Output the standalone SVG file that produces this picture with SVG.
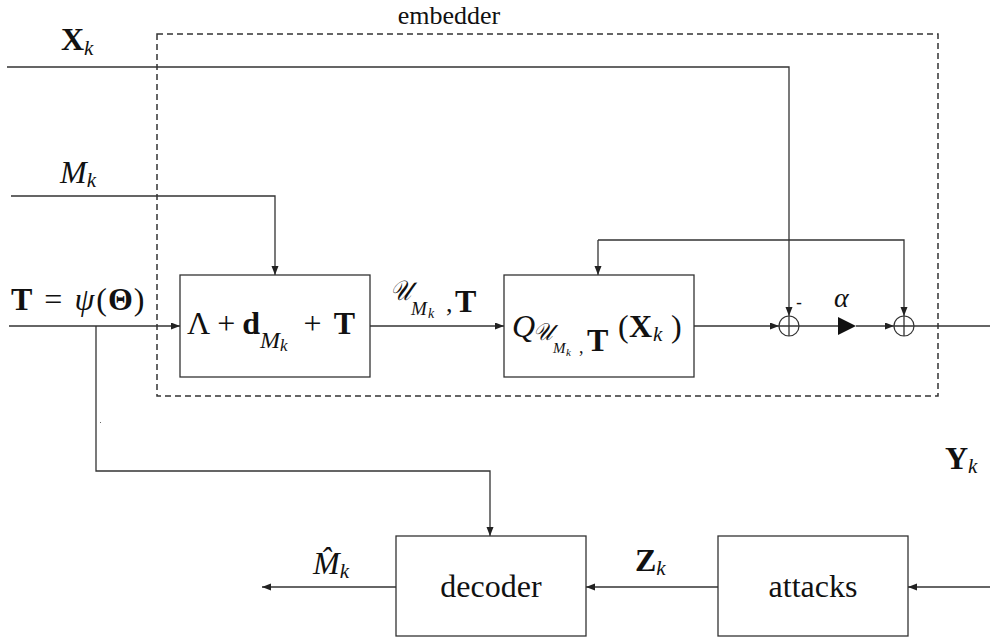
<svg xmlns="http://www.w3.org/2000/svg" width="990" height="639" viewBox="0 0 990 639">
<defs>
<marker id="arr" markerUnits="userSpaceOnUse" markerWidth="10" markerHeight="8" refX="9" refY="3.5" orient="auto">
<path d="M0,0 L9,3.5 L0,7 z" fill="#222"/>
</marker>
</defs>
<style>
.t{font-family:"Liberation Serif","DejaVu Serif",serif;fill:#111}
.b{font-weight:bold}
.i{font-style:italic}
.box{fill:#fff;stroke:#333;stroke-width:1.3}
.ln{fill:none;stroke:#333;stroke-width:1.3}
.ar{fill:none;stroke:#333;stroke-width:1.3;marker-end:url(#arr)}
</style>
<rect width="990" height="639" fill="#fff"/>

<g id="embedder">
<rect x="157" y="34" width="781" height="362" fill="none" stroke="#333" stroke-width="1.5" stroke-dasharray="6,4"/>
<text class="t" x="449" y="24" font-size="26" text-anchor="middle">embedder</text>
</g>

<g id="connectors">
<path class="ar" d="M7,67 H789 V316"/>
<path class="ar" d="M11,196 H275 V275"/>
<path class="ar" d="M9,326 H180"/>
<path class="ar" d="M370,326 H504"/>
<path class="ar" d="M694,326 H779"/>
<path class="ln" d="M799,326 H838"/>
<path class="ar" d="M856,326 H894"/>
<path class="ln" d="M914,326 H990"/>
<path class="ar" d="M598,240 H904 V316"/>
<path class="ar" d="M598,240 V275"/>
<path class="ar" d="M96,326 V471 H490 V536"/>
<path class="ar" d="M990,587 H908"/>
<path class="ar" d="M718,587 H586"/>
<path class="ar" d="M396,587 H262"/>
</g>

<g id="labels">
<text class="t" x="61" y="50" font-size="32"><tspan class="b">X</tspan><tspan class="i" font-size="21" dy="5">k</tspan></text>
<text class="t" x="60" y="183" font-size="32"><tspan class="i">M</tspan><tspan class="i" font-size="21" dy="4">k</tspan></text>
<text class="t" x="11" y="310" font-size="32"><tspan class="b">T</tspan><tspan dx="12">=</tspan><tspan class="i" dx="12">ψ</tspan><tspan dx="2">(</tspan><tspan class="b" dx="1">Θ</tspan><tspan dx="1">)</tspan></text>
<text class="t i" x="390" y="300" font-size="28" textLength="21" lengthAdjust="spacingAndGlyphs">𝒰</text>
<text class="t i" x="411" y="315" font-size="19">M</text>
<text class="t i" x="428" y="318" font-size="14">k</text>
<text class="t" x="446" y="312" font-size="26">,</text>
<text class="t b" x="455" y="312" font-size="32">T</text>
<text class="t i" x="834" y="307" font-size="28">α</text>
<text class="t" x="796" y="309" font-size="18" style="font-family:'Liberation Sans',sans-serif">-</text>
<text class="t" x="945" y="469" font-size="32"><tspan class="b">Y</tspan><tspan class="i" font-size="21" dy="4">k</tspan></text>
<text class="t" x="635" y="571" font-size="32"><tspan class="b">Z</tspan><tspan class="i" font-size="21" dy="4">k</tspan></text>
<text class="t" x="313" y="574" font-size="32"><tspan class="i">M̂</tspan><tspan class="i" font-size="21" dy="4">k</tspan></text>
<rect x="100" y="422" width="1" height="1" fill="#666"/>
</g>

<g id="box1">
<rect class="box" x="180" y="275" width="190" height="102"/>
<text class="t" x="187" y="334" font-size="32"><tspan>Λ</tspan><tspan dx="7">+</tspan><tspan class="b" dx="7">d</tspan><tspan class="i" font-size="24" dy="14">M</tspan><tspan class="i" font-size="17" dy="3">k</tspan><tspan dx="16" dy="-17">+</tspan><tspan class="b" dx="12">T</tspan></text>
</g>

<g id="box2">
<rect class="box" x="504" y="275" width="190" height="102"/>
<text class="t i" x="512" y="337" font-size="32">Q</text>
<text class="t i" x="533" y="340" font-size="24" textLength="20" lengthAdjust="spacingAndGlyphs">𝒰</text>
<text class="t i" x="553" y="353" font-size="15">M</text>
<text class="t i" x="566" y="356" font-size="11">k</text>
<text class="t" x="579" y="353" font-size="18">,</text>
<text class="t b" x="587" y="351" font-size="32">T</text>
<text class="t" y="337" font-size="32"><tspan x="618">(</tspan><tspan class="b" x="629">X</tspan><tspan class="i" font-size="21" x="653" dy="4">k</tspan><tspan x="671" dy="-4">)</tspan></text>
</g>

<g id="sum1">
<circle cx="789" cy="326" r="10" fill="none" stroke="#333" stroke-width="1.2"/>
<path class="ln" d="M779,326 H799 M789,316 V336" stroke-width="1"/>
</g>
<g id="gain">
<polygon points="838,317 856,326 838,335" fill="#111"/>
</g>
<g id="sum2">
<circle cx="904" cy="326" r="10" fill="none" stroke="#333" stroke-width="1.2"/>
<path class="ln" d="M894,326 H914 M904,316 V336" stroke-width="1"/>
</g>

<g id="decoder">
<rect class="box" x="396" y="536" width="190" height="100"/>
<text class="t" x="491" y="597" font-size="32" text-anchor="middle">decoder</text>
</g>
<g id="attacks">
<rect class="box" x="718" y="536" width="190" height="100"/>
<text class="t" x="813" y="597" font-size="32" text-anchor="middle">attacks</text>
</g>
</svg>
